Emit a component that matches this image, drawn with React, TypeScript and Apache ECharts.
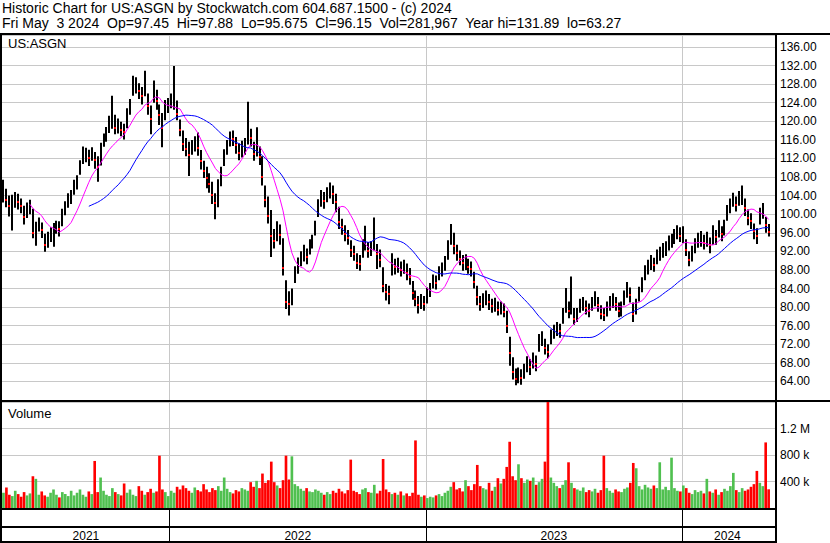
import React, { useEffect, useRef } from "react";
import * as echarts from "echarts";

const HEADER_1 = "Historic Chart for US:ASGN by Stockwatch.com 604.687.1500 - (c) 2024";
const HEADER_2 = "Fri May  3 2024  Op=97.45  Hi=97.88  Lo=95.675  Cl=96.15  Vol=281,967  Year hi=131.89  lo=63.27";
const SYMBOL = "US:ASGN";
const VOLUME_TITLE = "Volume";

// one bar every 3 trading days, first bar 2021-05-07, last bar 2024-05-03
const START_DATE = "2021-05-07";
const STEP_WEEKDAYS = 3;
const PAD_BARS = 2;

const closes = [
  104.5, 103, 101.8, 102.5, 103.3, 102.6, 101.7, 99.4, 100.8, 101.6,
  96, 96.7, 97.8, 96.5, 93.4, 94.6, 95.8, 96.6, 97.3, 96.8,
  99.6, 101.4, 103, 103.8, 106, 107.2, 110.3, 112.4, 112.8, 112,
  113.2, 111.6, 110.2, 114, 116.2, 117.3, 119.5, 120.2, 118.6, 119.2,
  118.2, 117.6, 121.2, 123.5, 127.6, 127.8, 126.6, 125.4, 127.5, 123.2,
  120.5, 126.2, 124.4, 121.3, 118.6, 123, 123.8,
  124.5, 125, 121.5,
  118.2, 115.2, 114, 112.8, 114.6, 115.2, 114.2, 111.4, 109.4, 107.8,
  106.6, 104.2, 102.4, 105.6, 108.6, 112.5, 114.6, 116.5, 116.2, 114.8,
  113.2, 113.8, 114.4, 117, 116.4, 113, 114.2, 112.4, 108, 103,
  99.6, 95.4, 94.2, 96.4, 95.6, 88.4, 81.2, 80.6, 82.4, 87.2,
  89.4, 90.6, 91.8, 90.8, 93, 94.2, 97.2, 101.6, 103.4, 102.8,
  104.2, 105.2, 104.4, 102.6, 98.4, 97.2, 95.8, 94.8, 92.2, 91.4,
  89.6, 89.2, 92.8, 93.8, 92, 92.6, 94, 91.4, 90.2, 84.6,
  83.2, 82.8, 89.6, 88.6, 89.2, 88, 88.8, 87.4, 86.4, 83,
  81.8, 80.4, 81.2, 80.6, 82.8, 83.8, 85.6, 85.2, 87.4, 88.2,
  89.4, 92.8, 95.6, 93.2, 91.6, 90.4, 89.4, 89.8, 88.6, 88.2,
  85.4, 82.2, 80.6, 81.2, 82, 81, 80.2, 80.6, 79.4, 79.8,
  79, 76, 70.2, 66, 64.6, 65.4, 64.8, 66.2, 67.8, 67,
  68.6, 67.8, 72.6, 73.4, 71.2, 70.4, 73.6, 74.8, 75.4, 74.8,
  78.2, 80.4, 79.2, 80.2, 77.4, 78.2, 80.4, 80.8, 79.8, 79.2,
  80.6, 81.8, 80.4, 78.6, 78.4, 79.6, 80.8, 81.4, 80.6, 79.2,
  79.6, 82, 83.6, 82.6, 78.6, 80.2, 82.8, 84.8, 87.4, 88.6,
  89.6, 89, 90.8, 91.6, 92.2, 92.6, 93.8, 94.4, 95.2, 96.2,
  95.4, 95.8, 92.4, 90.2, 91.6, 93.2, 94.4, 94.8, 93.8, 94.6,
  93.4, 95.2, 95, 96.6, 95.8, 97.2, 100.4, 101.8, 103.2, 102,
  103.4, 103.8, 101.4, 99.2, 98.6, 96.4, 95.2, 99.8, 100.6, 97.6, 96.15,
];

const highs = [
  107.4, 105.5, 104, 104.2, 104.8, 104.4, 103.4, 101.8, 102.5, 103.1,
  101.2, 98.4, 99.3, 98.2, 95.8, 96.2, 97.2, 98.1, 98.6, 98.5,
  101.2, 102.8, 104.5, 105.2, 107.4, 108.4, 111.6, 114.6, 114.3, 113.9,
  114.4, 113.4, 112.5, 115.4, 117.4, 118.8, 121.2, 125.5, 121.4, 120.6,
  119.9, 119.5, 122.8, 124.8, 129.8, 129.5, 128.2, 127.4, 130.9, 126,
  123.4, 128.8, 126.8, 123.6, 121.8, 124.6, 125,
  126, 131.9, 124.5,
  120.4, 118, 116.4, 115.6, 116, 116.8, 117.6, 113.8, 111.5, 110.2,
  108.8, 107, 104.5, 107.5, 110.2, 114, 116, 117.8, 118, 116.6,
  115.2, 115.8, 116.4, 124.2, 118.4, 115.6, 118.7, 114.6, 112.5, 106.2,
  103.8, 100.9, 96.8, 98.5, 97.8, 94.8, 85.8, 83.4, 84, 88.8,
  90.7, 92, 93.4, 92.6, 94.6, 95.6, 98.6, 103.2, 105.2, 104.8,
  105.8, 106.8, 106.2, 104.4, 101.6, 99, 97.6, 96.6, 94.4, 93.2,
  91.6, 91.2, 94.6, 97.5, 94, 94.2, 99.3, 93.6, 92.4, 88.6,
  85, 84.6, 91.6, 90.4, 90.6, 89.8, 90.2, 89.4, 88.4, 85.6,
  83.6, 82.4, 82.8, 82.4, 84.2, 85.2, 87, 86.8, 88.8, 89.6,
  91, 94.4, 97.9, 96, 93.4, 92.2, 91.2, 91.4, 90.4, 89.8,
  87.6, 84.6, 82.4, 83, 83.6, 82.8, 81.8, 82, 81.2, 81.2,
  80.8, 79.2, 73.6, 69.2, 66.8, 67, 66.6, 67.8, 69.4, 68.8,
  70.2, 69.6, 74.2, 74.8, 73.2, 72, 75.2, 76.2, 76.8, 76.4,
  79.8, 84.1, 81.2, 86.6, 79.8, 79.8, 81.8, 82.2, 81.4, 80.8,
  82.2, 83.4, 82.2, 80.4, 79.8, 81.2, 82.4, 83, 82.2, 81,
  81.2, 83.6, 85.4, 84.2, 81, 81.8, 84.4, 86.4, 89, 90.2,
  91.2, 90.6, 92.4, 93, 93.8, 94.2, 95.4, 95.8, 96.8, 97.6,
  97.2, 97.4, 94.6, 92, 93.2, 94.8, 96, 96.4, 95.6, 96.2,
  95, 97.6, 96.6, 98.7, 97.4, 98.8, 102, 103.4, 104.6, 103.8,
  105, 106.2, 103.4, 101, 100.2, 98, 97, 101.4, 102.4, 99.4, 97.88,
];

const lows = [
  102.5, 101.5, 99.5, 96.5, 101.4, 101, 100.2, 97.8, 99.2, 100,
  94.8, 93.2, 96.3, 94.9, 91.9, 92.8, 94, 93, 95.8, 95.2,
  97.4, 99.8, 101.4, 102.2, 104.2, 105.3, 108.5, 110.8, 111.2, 110.4,
  111.5, 109.8, 107, 110.5, 114.5, 115.6, 117.5, 118.4, 117.2, 117.4,
  116.8, 116.1, 118.5, 121.4, 125.5, 126, 124.8, 123.6, 125.4, 121.4,
  117.2, 124, 122.5, 119.2, 114.4, 120.2, 121.8,
  122.8, 122.5, 120.2,
  116.8, 113.6, 112.5, 108.2, 112.8, 113.5, 112.6, 109.6, 107.8, 105.6,
  104.6, 102.2, 98.9, 101.5, 106, 110.4, 112.8, 114.6, 114.7, 113,
  111.6, 112.2, 112.8, 115, 114.6, 111.5, 112.4, 110.6, 106.2, 101.5,
  98, 90.8, 92.6, 94.2, 93.4, 86.8, 79.6, 78.2, 80.4, 85.2,
  87.2, 88.8, 89.8, 89.2, 91.3, 92.6, 95.4, 99.4, 101.6, 101.2,
  102.6, 103.4, 102.2, 100.4, 96.8, 95.6, 94.2, 93.4, 90.8, 90,
  88.2, 87.8, 90.6, 92.2, 90.6, 91, 92.2, 88.2, 88.6, 83.2,
  81.4, 80.6, 86.8, 87, 87.4, 86.6, 87.2, 85.8, 84.8, 81.6,
  80.2, 78.6, 79.6, 79.2, 80.8, 82.2, 84, 83.8, 85.8, 86.6,
  87.8, 90.2, 93.4, 91.4, 90, 89, 87.8, 88, 87.2, 86.6,
  84, 80.4, 79.2, 79.8, 80.4, 79.4, 78.8, 79, 78.2, 78.4,
  77.8, 74.4, 67.4, 64.4, 63.2, 63.6, 63.3, 64.6, 66, 65.4,
  66.8, 66.2, 70.4, 71.6, 69.8, 69, 72, 73.2, 73.8, 73.4,
  76.4, 78.8, 77.6, 78.4, 76.2, 76.8, 78.8, 79.2, 78.4, 77.8,
  79.2, 80.2, 79, 77.4, 77, 78, 79.2, 79.8, 79.2, 77.8,
  78, 80.4, 82, 81, 76.8, 78.4, 81.2, 83.2, 85.8, 87,
  88, 87.6, 89.2, 90, 90.6, 91, 92.2, 92.8, 93.6, 94.6,
  94, 93.8, 91, 88.8, 89.8, 91.6, 92.8, 93, 92.4, 93,
  91.6, 93.4, 93.4, 95, 94.2, 95.4, 98.6, 100.2, 101.6, 100.6,
  101.8, 102, 99.6, 97.6, 96.8, 94.6, 93.6, 97.8, 99, 96, 95.2,
];

// daily-scale volume, thousands of shares
const volumesK = [
  230, 310, 200, 180, 260, 210, 170, 240, 190, 220,
  480, 440, 200, 250, 190, 170, 230, 280, 200, 160,
  240, 210, 180, 260, 190, 230, 280, 200, 170, 250,
  210, 710, 240, 460, 260, 200, 180, 300, 240, 210,
  190, 370, 230, 280, 200, 180, 330, 260, 200, 240,
  290, 230, 250, 790, 280, 240, 180,
  260, 230, 320, 280, 340, 300, 260, 230, 310, 270, 250, 360, 280,
  240, 300, 270, 330, 260, 460, 290, 240, 220, 270,
  250, 300, 280, 260, 390, 320, 410, 300, 520, 380,
  420, 700, 390, 340, 300, 420, 790, 430, 780, 360,
  330, 290, 260, 300, 250, 240, 280, 260, 230, 200,
  240, 210, 260, 230, 290, 250, 220, 270, 730, 260,
  240, 210, 280, 300, 240, 230, 350, 220, 260, 740,
  280, 240, 210, 230, 200, 250, 190, 220, 180, 230,
  1020, 200, 170, 190, 150, 170, 160, 190, 210, 180,
  230, 260, 320, 390, 280, 300, 250, 420, 330, 270,
  360, 650, 330, 300, 280, 380, 260, 320, 450, 370,
  440, 620, 1000, 480, 420, 660, 450, 380, 430, 410,
  460, 350, 390, 440, 700, 1650, 460, 380, 330, 300,
  350, 420, 690, 380, 300, 280, 260, 310, 240, 270,
  250, 290, 230, 270, 790, 300, 260, 230, 280, 250,
  240, 290, 310, 380, 680, 600, 330, 280, 350, 310,
  290, 340, 300, 690, 280, 320, 270, 760, 300, 260,
  250, 340, 300, 230, 210, 270, 240, 260, 220, 440,
  250, 230, 280, 200, 240, 290, 260, 330, 530, 270,
  240, 300, 260, 280, 320, 360, 560, 380, 330, 990, 282,
];

const MA_SHORT_BARS = 10;
const MA_LONG_BARS = 30;

const PRICE_MIN = 60;
const PRICE_MAX = 138.58;
const PRICE_STEP = 4;
const VOL_MAX_K = 1600;
const VOL_STEP_K = 400;

const FONT = 'Arial, "Liberation Sans", sans-serif';

function buildDates(total: number): string[] {
  const out: string[] = [];
  const d = new Date(START_DATE + "T00:00:00Z");
  let count = 0;
  while (out.length < total) {
    const wd = d.getUTCDay();
    if (wd !== 0 && wd !== 6) {
      if (count % STEP_WEEKDAYS === 0) out.push(d.toISOString().slice(0, 10));
      count++;
    }
    d.setUTCDate(d.getUTCDate() + 1);
  }
  return out;
}

function movingAverage(values: number[], n: number): (number | string)[] {
  return values.map((_, i) => {
    if (i < n - 1) return "-";
    let s = 0;
    for (let k = i - n + 1; k <= i; k++) s += values[k];
    return +(s / n).toFixed(3);
  });
}

export default function App() {
  const ref = useRef<HTMLDivElement>(null);

  useEffect(() => {
    if (!ref.current) return;
    const chart = echarts.init(ref.current, undefined, { renderer: "svg" });

    const dates = buildDates(closes.length + PAD_BARS);
    const yearStart = new Set<number>();
    const yearMid = new Set<number>();
    const ranges: Record<string, [number, number]> = {};
    dates.forEach((d, i) => {
      const y = d.slice(0, 4);
      if (!ranges[y]) ranges[y] = [i, i];
      ranges[y][1] = i;
      if (i > 0 && dates[i - 1].slice(0, 4) !== y) yearStart.add(i);
    });
    Object.keys(ranges).forEach((y) => {
      const [a, b] = ranges[y];
      yearMid.add(Math.floor((a + b) / 2));
    });

    const ohlc = closes.map((c, i) => [
      i,
      highs[i],
      lows[i],
      c,
      i > 0 && c < closes[i - 1] ? 1 : 0,
    ]);

    const volData = volumesK.map((v, i) => ({
      value: v,
      itemStyle: {
        color: i > 0 && closes[i] < closes[i - 1] ? "#ff0000" : "#50c050",
      },
    }));

    const splitFn = (idx: number) => yearStart.has(idx);
    const midFn = (idx: number) => yearMid.has(idx);

    const xAxes = [0, 1, 2].map((gi) => ({
      type: "category",
      gridIndex: gi,
      data: dates,
      boundaryGap: true,
      axisLine: { show: false },
      axisTick: {
        show: gi === 2,
        interval: splitFn,
        length: 15,
        lineStyle: { color: "#000", width: 1 },
      },
      axisLabel: {
        show: gi === 2,
        interval: midFn,
        formatter: (v: string) => v.slice(0, 4),
        margin: 3,
        fontSize: 12,
        color: "#000",
        fontFamily: FONT,
      },
      splitLine: {
        show: true,
        interval: splitFn,
        lineStyle: { color: gi === 2 ? "#000" : "#c8c8c8", width: 1 },
      },
    }));

    const option: any = {
      animation: false,
      backgroundColor: "#ffffff",
      textStyle: { fontFamily: FONT },
      grid: [
        { left: 2, right: 54, top: 35, height: 365 },
        { left: 2, right: 54, top: 402, height: 106 },
        { left: 2, right: 54, top: 510, height: 17 },
      ],
      xAxis: xAxes,
      yAxis: [
        {
          type: "value",
          gridIndex: 0,
          position: "right",
          min: PRICE_MIN,
          max: PRICE_MAX,
          interval: PRICE_STEP,
          axisLine: { show: false },
          axisTick: { show: false },
          axisLabel: {
            showMinLabel: false,
            showMaxLabel: false,
            formatter: (v: number) => (v <= PRICE_MIN || v > PRICE_MAX - 1 ? "" : v.toFixed(2)),
            margin: 4,
            fontSize: 12,
            color: "#000",
            fontFamily: FONT,
          },
          splitLine: { lineStyle: { color: "#c8c8c8", width: 1 } },
        },
        {
          type: "value",
          gridIndex: 1,
          position: "right",
          min: 0,
          max: VOL_MAX_K,
          interval: VOL_STEP_K,
          axisLine: { show: false },
          axisTick: { show: false },
          axisLabel: {
            formatter: (v: number) =>
              v <= 0 || v >= VOL_MAX_K ? "" : v >= 1000 ? v / 1000 + " M" : v + " k",
            margin: 4,
            fontSize: 12,
            color: "#000",
            fontFamily: FONT,
          },
          splitLine: { lineStyle: { color: "#c8c8c8", width: 1 } },
        },
        { type: "value", gridIndex: 2, show: false, min: 0, max: 1 },
      ],
      series: [
        {
          type: "custom",
          xAxisIndex: 0,
          yAxisIndex: 0,
          clip: true,
          encode: { x: 0, y: [1, 2] },
          data: ohlc,
          renderItem: (params: any, api: any) => {
            const i = api.value(0);
            const hi = api.coord([i, api.value(1)]);
            const lo = api.coord([i, api.value(2)]);
            const cl = api.coord([i, api.value(3)]);
            const x = Math.round(hi[0]) - 1;
            const children: any[] = [
              {
                type: "rect",
                shape: { x, y: hi[1], width: 2, height: Math.max(lo[1] - hi[1], 1) },
                style: { fill: "#000" },
              },
            ];
            if (api.value(4) === 1) {
              children.push({
                type: "rect",
                shape: { x, y: Math.round(cl[1]) - 1, width: 2, height: 2 },
                style: { fill: "#ff0000" },
              });
            }
            return { type: "group", children };
          },
          z: 3,
        },
        {
          type: "line",
          xAxisIndex: 0,
          yAxisIndex: 0,
          data: movingAverage(closes, MA_SHORT_BARS),
          showSymbol: false,
          lineStyle: { color: "#ff00ff", width: 1 },
          z: 4,
        },
        {
          type: "line",
          xAxisIndex: 0,
          yAxisIndex: 0,
          data: movingAverage(closes, MA_LONG_BARS),
          showSymbol: false,
          lineStyle: { color: "#0000ff", width: 1 },
          z: 4,
        },
        {
          type: "bar",
          xAxisIndex: 1,
          yAxisIndex: 1,
          data: volData,
          barCategoryGap: "10%",
        },
      ],
      graphic: [
        { type: "text", x: 2, y: 8, style: { text: HEADER_1, fontSize: 14, fontFamily: FONT, fill: "#000", verticalAlign: "middle" } },
        { type: "text", x: 2, y: 23, style: { text: HEADER_2, fontSize: 14, fontFamily: FONT, fill: "#000", verticalAlign: "middle" } },
        { type: "text", x: 8, y: 43, z: 20, style: { text: SYMBOL, fontSize: 13, fontFamily: FONT, fill: "#000", verticalAlign: "middle" } },
        { type: "text", x: 8, y: 413, z: 20, style: { text: VOLUME_TITLE, fontSize: 13, fontFamily: FONT, fill: "#000", verticalAlign: "middle" } },
        { type: "rect", z: 30, shape: { x: 0, y: 33, width: 830, height: 2 }, style: { fill: "#000" } },
        { type: "rect", z: 30, shape: { x: 0, y: 400, width: 830, height: 2 }, style: { fill: "#000" } },
        { type: "rect", z: 30, shape: { x: 0, y: 508, width: 777, height: 2 }, style: { fill: "#000" } },
        { type: "rect", z: 30, shape: { x: 0, y: 526, width: 777, height: 2 }, style: { fill: "#000" } },
        { type: "rect", z: 30, shape: { x: 0, y: 541, width: 777, height: 2 }, style: { fill: "#000" } },
        { type: "rect", z: 30, shape: { x: 0, y: 33, width: 2, height: 510 }, style: { fill: "#000" } },
        { type: "rect", z: 30, shape: { x: 775, y: 33, width: 2, height: 510 }, style: { fill: "#000" } },
      ],
    };

    chart.setOption(option);
    return () => chart.dispose();
  }, []);

  return (
    <div
      ref={ref}
      style={{ position: "absolute", left: 0, top: 0, width: 830, height: 543, background: "#fff" }}
    />
  );
}
